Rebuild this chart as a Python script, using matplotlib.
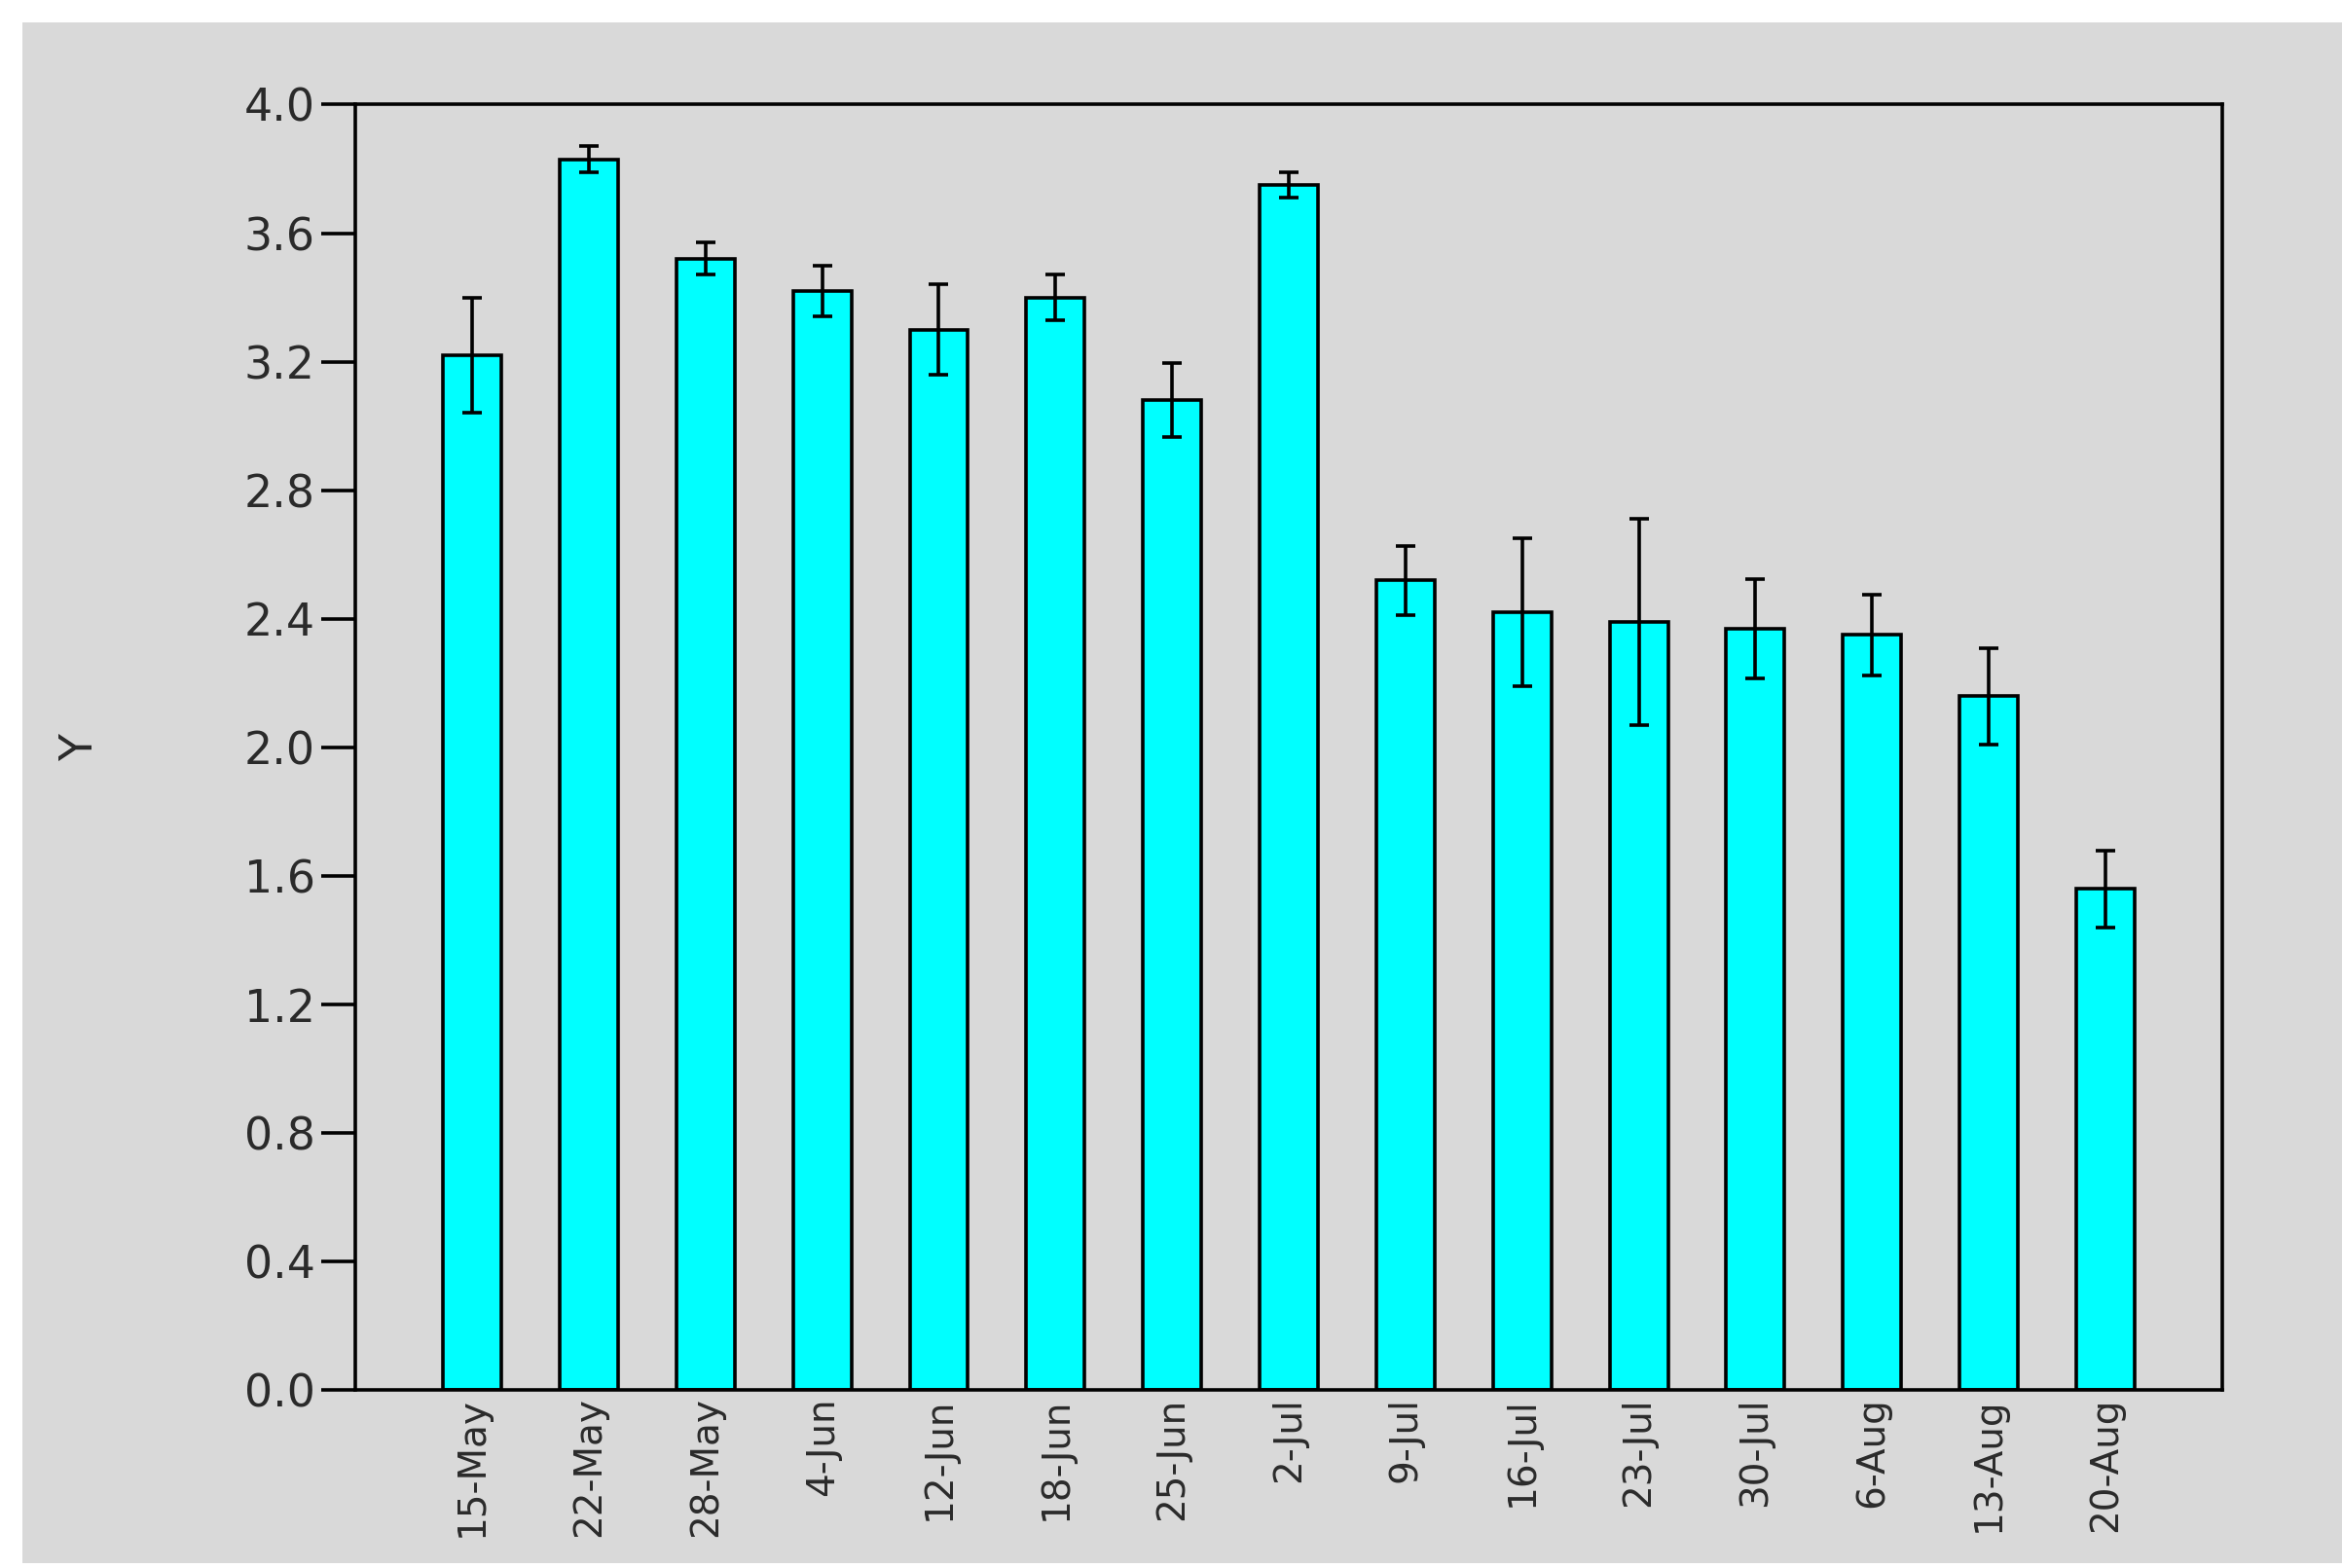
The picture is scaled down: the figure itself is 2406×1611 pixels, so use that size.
import matplotlib
matplotlib.use("Agg")
from matplotlib import pyplot as plt
from matplotlib.patches import Rectangle

dates = ["15-May", "22-May", "28-May", "4-Jun", "12-Jun", "18-Jun", "25-Jun", "2-Jul",
         "9-Jul", "16-Jul", "23-Jul", "30-Jul", "6-Aug", "13-Aug", "20-Aug"]
means = [3.22, 3.83, 3.52, 3.42, 3.30, 3.40, 3.08, 3.75,
         2.52, 2.42, 2.39, 2.37, 2.35, 2.16, 1.56]
errors = [0.18, 0.04, 0.05, 0.08, 0.14, 0.07, 0.115, 0.04,
          0.107, 0.23, 0.32, 0.155, 0.125, 0.15, 0.12]
yticks = [0.0, 0.4, 0.8, 1.2, 1.6, 2.0, 2.4, 2.8, 3.2, 3.6, 4.0]

plt.rcParams['font.family'] = ['DejaVu Sans']
grey = '#d9d9d9'
txt = '#2a2a2a'
lw = 2.6

fig = plt.figure(figsize=(24.06, 16.11), dpi=100, facecolor='white')
# grey panel, thin white border on top, left and bottom
fig.patches.append(Rectangle((0.0096, 0.003), 1.0, 0.983, transform=fig.transFigure,
                             facecolor=grey, edgecolor='none', zorder=-10))

ax = fig.add_axes([0.1518, 0.1133, 0.797, 0.82])
ax.set_facecolor(grey)

x = list(range(len(dates)))
ax.bar(x, means, width=0.5, color='#00ffff', edgecolor='black', linewidth=lw,
       yerr=errors, capsize=7, error_kw=dict(ecolor='black', elinewidth=lw, capthick=lw))

ax.set_xlim(-1, 15)
ax.set_ylim(0, 4.0)
ax.set_yticks(yticks)
ax.set_yticklabels([f"{v:.1f}" for v in yticks])
ax.set_xticks(x)
ax.set_xticklabels(dates, rotation=90, fontsize=28)

for s in ax.spines.values():
    s.set_linewidth(lw)
    s.set_color('black')

ax.tick_params(axis='y', direction='out', length=25, width=lw, labelsize=33,
               labelcolor=txt, pad=5)
ax.tick_params(axis='x', length=0, labelcolor=txt, pad=5)

ax.set_ylabel('Y', fontsize=33, color=txt, labelpad=105)

fig.savefig("out.png", dpi=100, facecolor=fig.get_facecolor())
